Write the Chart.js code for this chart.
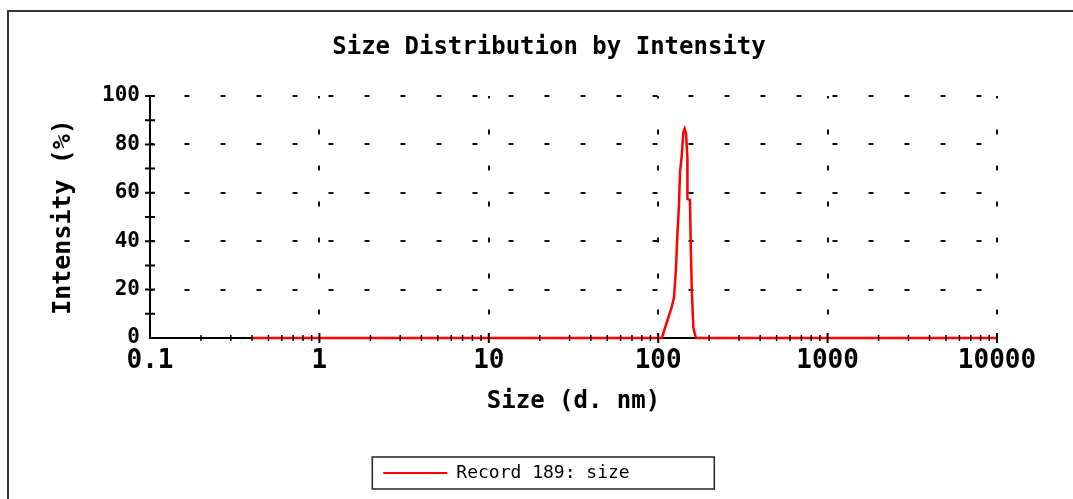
<!DOCTYPE html>
<html>
<head>
<meta charset="utf-8">
<title>Size Distribution by Intensity</title>
<script src="https://cdn.jsdelivr.net/npm/chart.js@4.4.1/dist/chart.umd.min.js"></script>
<style>
  html, body { margin: 0; padding: 0; background: #fff; }
  #wrap { width: 1073px; height: 499px; position: relative; }
</style>
</head>
<body>
<div id="wrap"><canvas id="sizeChart"></canvas></div>
<script>
// values: size (d.nm) and intensity (%)
const sizes = [0.4, 105, 120, 124, 127.4, 129.7, 132.7, 134.5, 137.6, 140.7, 143.3, 146, 148.6, 148.8, 154, 155.6, 157.7, 161.2, 167, 10000];
const intensities = [0, 0, 12.6, 16.7, 29, 42, 55, 68.5, 75, 85, 86.5, 84.5, 75, 57.5, 57, 39, 21, 4.3, 0, 0];

const xTickValues = [0.1, 1, 10, 100, 1000, 10000];
const xTickLabels = ["0.1", "1", "10", "100", "1000", "10000"];
const xMinorSteps = [2, 3, 4, 5, 6, 7, 8, 9];
const yTickValues = [0, 20, 40, 60, 80, 100];
const yMinorValues = [10, 30, 50, 70, 90];

const chartTitle = "Size Distribution by Intensity";
const seriesLabel = "Record 189: size";

const mono = "'DejaVu Sans Mono', monospace";

// frame, title and legend box
const framePlugin = {
  id: 'frame',
  beforeDraw(chart) {
    const ctx = chart.ctx;
    ctx.save();
    ctx.fillStyle = '#fff';
    ctx.fillRect(0, 0, chart.width, chart.height);
    ctx.strokeStyle = '#333';
    ctx.lineWidth = 2;
    ctx.beginPath();
    ctx.moveTo(8, chart.height);
    ctx.lineTo(8, 11);
    ctx.lineTo(chart.width, 11);
    ctx.stroke();
    ctx.restore();
  },
  afterDraw(chart) {
    const ctx = chart.ctx;
    ctx.save();
    ctx.fillStyle = '#000';
    ctx.font = "bold 24px " + mono;
    ctx.textAlign = 'center';
    ctx.textBaseline = 'middle';
    ctx.fillText(chartTitle, 549, 48);

    const hb = chart.legend.legendHitBoxes[0];
    if (hb) {
      ctx.strokeStyle = '#222';
      ctx.lineWidth = 1.5;
      ctx.strokeRect(hb.left - 11, hb.top + hb.height / 2 - 16, 342, 32);
    }
    ctx.restore();
  }
};

// tick marks crossing the axes
const tickMarks = {
  id: 'tickMarks',
  afterDatasetsDraw(chart) {
    const { ctx, scales: { x, y } } = chart;
    ctx.save();
    ctx.strokeStyle = '#000';
    ctx.lineWidth = 2;
    ctx.beginPath();
    yTickValues.concat(yMinorValues).forEach(v => {
      if (v === 0) return;
      const py = y.getPixelForValue(v);
      ctx.moveTo(x.left - 5, py);
      ctx.lineTo(x.left + 5, py);
    });
    xTickValues.forEach((v, i) => {
      if (i === 0) return;
      const px = x.getPixelForValue(v);
      ctx.moveTo(px, y.bottom - 5);
      ctx.lineTo(px, y.bottom + 5);
    });
    ctx.stroke();

    ctx.lineWidth = 1.5;
    ctx.beginPath();
    xTickValues.slice(0, -1).forEach(d => {
      xMinorSteps.forEach(m => {
        const px = x.getPixelForValue(d * m);
        ctx.moveTo(px, y.bottom - 3);
        ctx.lineTo(px, y.bottom + 3);
      });
    });
    ctx.stroke();
    ctx.restore();
  }
};

const gridOpts = {
  color: c => c.index === 0 ? 'rgba(0,0,0,0)' : '#111',
  lineWidth: 2,
  drawTicks: false
};
const borderOpts = { display: true, color: '#000', width: 2, dash: [5, 31], dashOffset: 2.5 };

const ctx = document.getElementById('sizeChart').getContext('2d');
const sizeChart = new Chart(ctx, {
  type: 'line',
  data: {
    datasets: [{
      label: seriesLabel,
      data: sizes.map((s, i) => ({ x: s, y: intensities[i] })),
      borderColor: '#ff0000',
      backgroundColor: '#ff0000',
      borderWidth: 2.5,
      pointRadius: 0,
      tension: 0,
      fill: false,
      clip: false
    }]
  },
  options: {
    responsive: true,
    maintainAspectRatio: false,
    animation: false,
    layout: { padding: { left: 16, right: 76, top: 96, bottom: 7 } },
    plugins: {
      title: { display: false },
      tooltip: { enabled: false },
      legend: {
        position: 'bottom',
        labels: {
          color: '#000',
          font: { family: mono, size: 18 },
          boxWidth: 64,
          boxHeight: 2,
          padding: 10,
          generateLabels: chart => Chart.defaults.plugins.legend.labels.generateLabels(chart)
            .map(item => Object.assign(item, { lineWidth: 0, fillStyle: '#ff0000' }))
        }
      }
    },
    scales: {
      x: {
        type: 'logarithmic',
        min: 0.1,
        max: 10000,
        afterBuildTicks: scale => { scale.ticks = xTickValues.map(v => ({ value: v })); },
        ticks: {
          autoSkip: false,
          maxRotation: 0,
          padding: 8,
          color: '#000',
          font: { family: mono, size: 26, weight: 'bold' },
          callback: (v, i) => xTickLabels[i]
        },
        grid: gridOpts,
        border: borderOpts,
        title: {
          display: true,
          text: 'Size (d. nm)',
          color: '#000',
          font: { family: mono, size: 24, weight: 'bold' },
          padding: { top: 2, bottom: 38 }
        }
      },
      y: {
        min: 0,
        max: 100,
        afterBuildTicks: scale => { scale.ticks = yTickValues.map(v => ({ value: v })); },
        afterFit: scale => { scale.width = 134; },
        ticks: {
          padding: 10,
          color: '#000',
          font: { family: mono, size: 21, weight: 'bold' }
        },
        grid: gridOpts,
        border: borderOpts,
        title: {
          display: true,
          text: 'Intensity (%)',
          color: '#000',
          font: { family: mono, size: 25, weight: 'bold' },
          padding: { top: 32, bottom: 0 }
        }
      }
    }
  },
  plugins: [framePlugin, tickMarks]
});
</script>
</body>
</html>
